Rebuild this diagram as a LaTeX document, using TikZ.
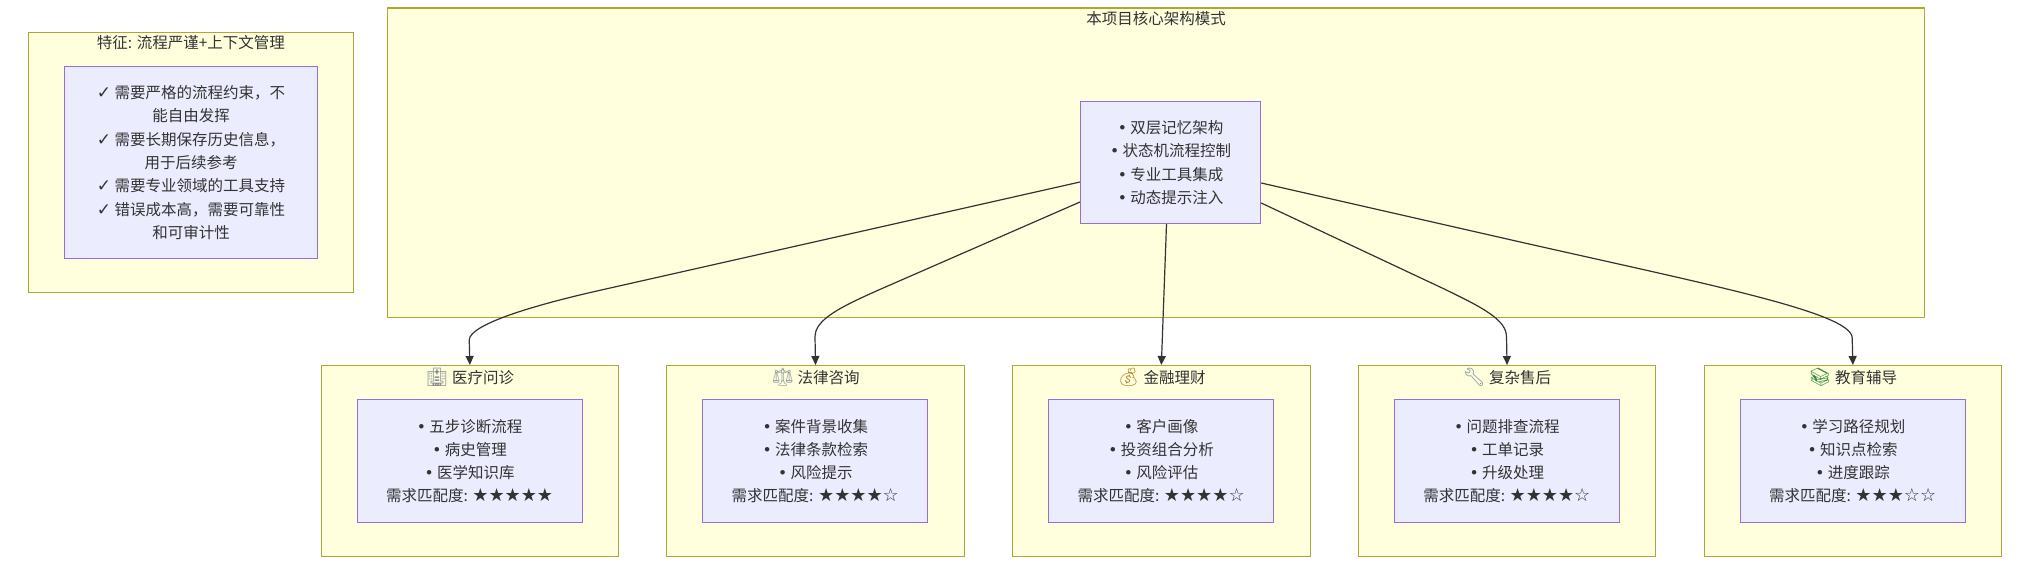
\documentclass[tikz,border=0pt]{standalone}
\usepackage{fontspec}
\setmainfont{Noto Sans CJK SC}
\newfontfamily\symf{DejaVu Sans}
\newfontfamily\emojif{Noto Emoji}
\usetikzlibrary{arrows.meta,calc}
\definecolor{clfill}{HTML}{FFFFDE}
\definecolor{clline}{HTML}{AAAA33}
\definecolor{ndfill}{HTML}{ECECFF}
\definecolor{ndline}{HTML}{9370DB}
\definecolor{txt}{HTML}{333333}
\definecolor{emhosp}{HTML}{8A8F96}
\definecolor{emscale}{HTML}{9CA3A8}
\definecolor{embag}{HTML}{B8862E}
\definecolor{emtool}{HTML}{7F8C99}
\definecolor{embook}{HTML}{3E8E41}
\newcommand{\bul}{{\symf •}\ }
\newcommand{\chk}{{\symf\fontsize{17}{17}\selectfont ✓}\ }
\newcommand{\stars}[1]{{\symf\fontsize{18}{18}\selectfont #1}}
\newcommand{\emo}[2]{{\color{#1}\emojif\fontsize{18}{18}\selectfont #2}\hspace{3.5pt}}
\tikzset{
  x=1pt,y=-1pt,
  clusterbox/.style={draw=clline,fill=clfill,line width=1.2pt,rectangle,inner sep=0pt,anchor=north west},
  innerbox/.style={draw=ndline,fill=ndfill,line width=1.2pt,rectangle,inner sep=0pt,anchor=north west,align=center,text=txt,font=\fontsize{15.5}{23.3}\selectfont},
  titlelabel/.style={text=txt,font=\fontsize{15.5}{20}\selectfont,inner sep=0pt,anchor=base},
  edgeline/.style={draw=txt,line width=1.2pt,-{Triangle[length=9pt,width=8pt]}},
}
\newcommand{\cluster}[7]{%
  \node[clusterbox,minimum width=297.5pt,minimum height=191pt] (#1) at (#2,365) {};
  \node[titlelabel] (#1t) at ($(#1.north)+(0,18)$) {#3};
  \node[innerbox,minimum width=225pt,minimum height=123pt] (#1i) at (#2+36,399) {\bul #4\\\bul #5\\\bul #6\\需求匹配度: \stars{#7}};
}
\begin{document}
\begin{tikzpicture}
\useasboundingbox (0,0) rectangle (2029,564);
\fill[white] (0,0) rectangle (2029,564);
% left cluster
\node[clusterbox,minimum width=325.5pt,minimum height=260pt] (feat) at (27.5,32) {};
\node[titlelabel] (featt) at ($(feat.north)+(0,16.5)$) {特征: 流程严谨+上下文管理};
\node[innerbox,minimum width=253pt,minimum height=192pt] (feati) at (64,66) {\chk 需要严格的流程约束，不\\能自由发挥\\\chk 需要长期保存历史信息，\\用于后续参考\\\chk 需要专业领域的工具支持\\\chk 错误成本高，需要可靠性\\和可审计性};
% main cluster
\node[clusterbox,minimum width=1537pt,minimum height=309pt] (main) at (387,7.5) {};
\node[titlelabel] (maint) at ($(main.north)+(0,17)$) {本项目核心架构模式};
\node[innerbox,minimum width=180pt,minimum height=122pt] (core) at (1080,101) {\bul 双层记忆架构\\\bul 状态机流程控制\\\bul 专业工具集成\\\bul 动态提示注入};
% bottom clusters
\cluster{med}{320.5}{\emo{emhosp}{🏥}医疗问诊}{五步诊断流程}{病史管理}{医学知识库}{★★★★★}
\cluster{law}{666.2}{\emo{emscale}{⚖}法律咨询}{案件背景收集}{法律条款检索}{风险提示}{★★★★☆}
\cluster{fin}{1012}{\emo{embag}{💰}金融理财}{客户画像}{投资组合分析}{风险评估}{★★★★☆}
\cluster{svc}{1357.7}{\emo{emtool}{🔧}复杂售后}{问题排查流程}{工单记录}{升级处理}{★★★★☆}
\cluster{edu}{1703.5}{\emo{embook}{📚}教育辅导}{学习路径规划}{知识点检索}{进度跟踪}{★★★☆☆}
% connectors
\coordinate (s1) at ($(core.north west)+(0,81)$);
\coordinate (s2) at ($(core.north west)+(0,101)$);
\coordinate (s3) at ($(core.south west)+(86.5,0)$);
\coordinate (s4) at ($(core.north east)+(0,102)$);
\coordinate (s5) at ($(core.north east)+(0,82)$);
\draw[edgeline] (s1) -- (600,290.3) .. controls (530,306) and (469.25,325) .. (469.25,340) -- (med.north);
\draw[edgeline] (s2) -- (880,289.4) .. controls (838,308) and (815,320) .. (815,337) -- (law.north);
\draw[edgeline] (s3) -- (fin.north);
\draw[edgeline] (s4) -- (1440,287) .. controls (1484,308) and (1506.5,320) .. (1506.5,337) -- (svc.north);
\draw[edgeline] (s5) -- (1500,237.4) .. controls (1700,283) and (1852.2,312) .. (1852.2,338) -- (edu.north);
\end{tikzpicture}
\end{document}
